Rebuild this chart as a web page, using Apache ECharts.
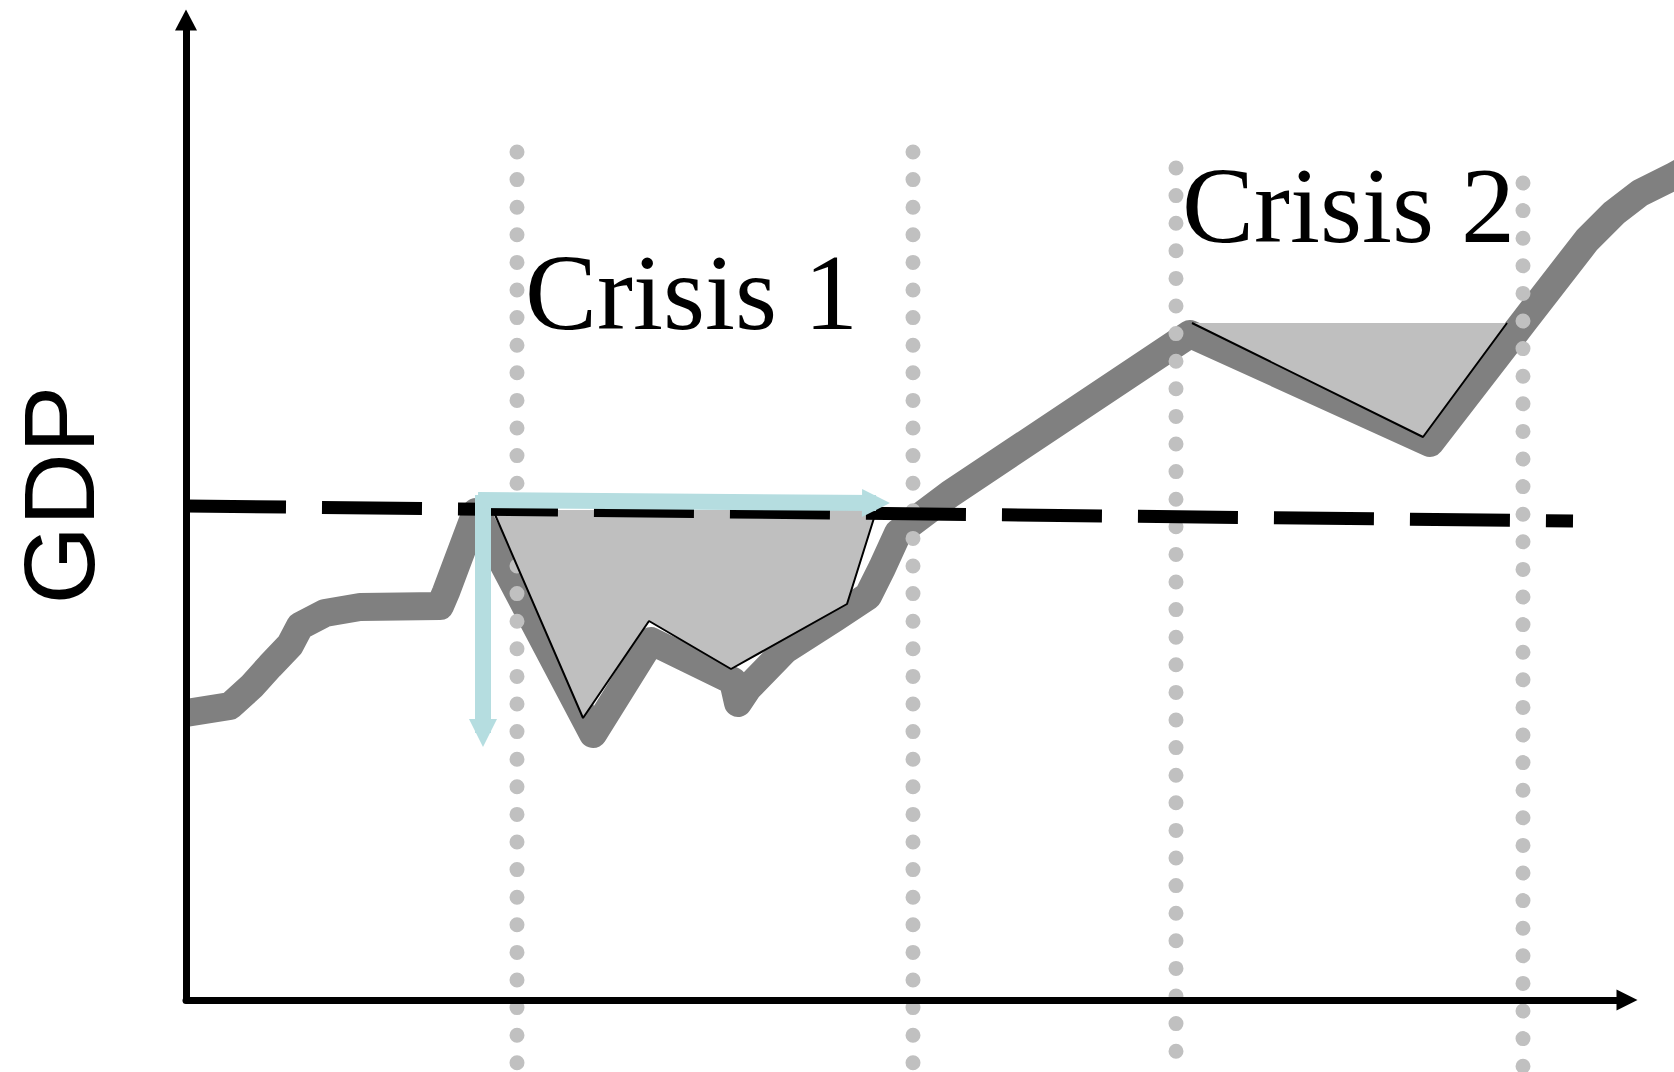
<!DOCTYPE html>
<html>
<head>
<meta charset="utf-8">
<title>GDP and two crises</title>
<script src="https://cdn.jsdelivr.net/npm/echarts@6/dist/echarts.min.js"></script>
<style>
  html, body { margin: 0; padding: 0; background: #fff; }
  #chart { width: 1674px; height: 1072px; }
</style>
</head>
<body>
<div id="chart"></div>
<script>
// GDP path (time, level)
var gdpTime  = [0, 4.4, 6.6, 8.4, 10.4, 11.4, 13.9, 17.4, 25.4, 26.0, 29.0, 40.7, 46.5, 54.7, 55.2, 56.2, 59.9, 64.9, 68.2, 69.6, 71.2, 76.4, 100.4, 124.4, 133.9, 140.1, 142.8, 145.4, 148.8, 151.0];
var gdpLevel = [28.7, 29.4, 31.4, 33.4, 35.5, 37.4, 38.7, 39.3, 39.4, 40.8, 48.8, 26.6, 35.9, 31.9, 29.7, 31.2, 35.0, 38.2, 40.4, 43.2, 46.7, 50.6, 66.6, 55.7, 68.0, 76.0, 78.7, 80.7, 82.4, 83.6];

// dashed pre-crisis level
var trendTime  = [0, 138.7];
var trendLevel = [49.4, 47.9];

// shaded output loss of each crisis
var loss1Time  = [30.7, 39.7, 46.3, 54.5, 66.1, 68.8];
var loss1Level = [49.0, 28.2, 37.9, 33.1, 39.6, 48.2];
var loss1Top   = 49.0;
var loss2Time  = [100.6, 123.7, 132.1];
var loss2Level = [67.7, 56.3, 67.7];
var loss2Top   = 67.7;

// dotted start / end of the crises
var crisisBounds = [33.1, 72.7, 99.0, 133.7];
var boundTop     = [84.8, 84.8, 83.2, 81.7];
var boundBottom  = -7;

// depth and duration arrows of crisis 1
var arrowFrom = [[29.7, 50.5], [29.2, 50.0]];
var arrowTo   = [[29.7, 26.7], [69.0, 49.7]];

var crisisNames = ['Crisis 1', 'Crisis 2'];

function pairs(xs, ys) {
  return xs.map(function (x, i) { return [x, ys[i]]; });
}

var chart = echarts.init(document.getElementById('chart'), null, { renderer: 'svg' });

var hiddenAxis = {
  axisLine: { show: false }, axisTick: { show: false },
  axisLabel: { show: false }, splitLine: { show: false }
};
var shownAxis = function (size) {
  return {
    axisLine: { show: true, onZero: false, symbol: ['none', 'triangle'], symbolSize: size,
      lineStyle: { color: '#000', width: 7 } },
    axisTick: { show: false }, axisLabel: { show: false }, splitLine: { show: false }
  };
};

// grid 0 only carries the two arrowed axes, grid 1 (same scale, full width) the drawing
var onData = { xAxisIndex: 1, yAxisIndex: 1, symbol: 'none', clip: false, silent: true };

var series = [];

series.push(Object.assign({
  name: 'GDP',
  type: 'line',
  data: pairs(gdpTime, gdpLevel),
  z: 2,
  lineStyle: { color: '#808080', width: 28, join: 'round', cap: 'butt' }
}, onData));

crisisBounds.forEach(function (t, i) {
  series.push(Object.assign({
    type: 'line',
    data: [[t, boundTop[i]], [t, boundBottom]],
    z: 3,
    lineStyle: { color: '#c0c0c0', width: 15, type: [0, 27.6], cap: 'round' }
  }, onData));
});

[[loss1Time, loss1Level, loss1Top], [loss2Time, loss2Level, loss2Top]].forEach(function (l) {
  series.push(Object.assign({
    type: 'line',
    data: pairs(l[0], l[1]),
    z: 3.5,
    lineStyle: { color: '#000', width: 2 },
    areaStyle: { color: '#bfbfbf', opacity: 1, origin: l[2] }
  }, onData));
});

series.push(Object.assign({
  name: 'trend',
  type: 'line',
  data: pairs(trendTime, trendLevel),
  z: 4,
  lineStyle: { color: '#000', width: 13, type: [100, 36], cap: 'butt' }
}, onData));

series.push(Object.assign({
  name: 'arrows',
  type: 'line',
  data: [],
  z: 8,
  markLine: {
    silent: true,
    animation: false,
    z: 8,
    symbol: ['none', 'triangle'],
    symbolSize: 28,
    label: { show: false },
    emphasis: { disabled: true },
    lineStyle: { color: '#b5dde0', width: 16, type: 'solid', opacity: 1 },
    data: arrowFrom.map(function (p, i) {
      return [{ coord: p }, { coord: arrowTo[i] }];
    })
  }
}, onData));

chart.setOption({
  animation: false,
  grid: [
    { left: 186, right: 47, top: 20, bottom: 72 },
    { left: 186, right: 0, top: 20, bottom: 72 }
  ],
  xAxis: [
    Object.assign({ type: 'value', gridIndex: 0, min: 0, max: 144.1, z: 7 }, shownAxis([21, 21])),
    Object.assign({ type: 'value', gridIndex: 1, min: 0, max: 148.8 }, hiddenAxis)
  ],
  yAxis: [
    Object.assign({ type: 'value', gridIndex: 0, min: 0, max: 98, z: 7 }, shownAxis([22, 21])),
    Object.assign({ type: 'value', gridIndex: 1, min: 0, max: 98 }, hiddenAxis)
  ],
  graphic: [
    { type: 'text', x: 59, y: 495, rotation: Math.PI / 2, z: 10,
      style: { text: 'GDP', font: '101px "Liberation Sans", Arial, sans-serif', fill: '#000',
        align: 'center', verticalAlign: 'middle' } },
    { type: 'text', x: 525, y: 292, z: 10,
      style: { text: crisisNames[0], font: '108px "Liberation Serif", "Times New Roman", serif', fill: '#000',
        align: 'left', verticalAlign: 'middle' } },
    { type: 'text', x: 1182, y: 205, z: 10,
      style: { text: crisisNames[1], font: '108px "Liberation Serif", "Times New Roman", serif', fill: '#000',
        align: 'left', verticalAlign: 'middle' } }
  ],
  series: series
});
</script>
</body>
</html>
